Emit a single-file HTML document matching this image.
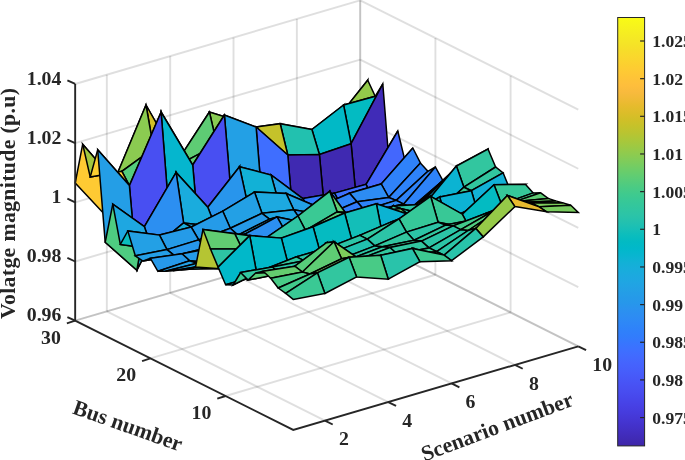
<!DOCTYPE html>
<html><head><meta charset="utf-8"><title>Voltage magnitude surface</title>
<style>html,body{margin:0;padding:0;background:#fff;}svg{display:block;}text{font-family:"Liberation Serif",serif;font-weight:bold;fill:#262626;}.t{font-size:19.8px;}.c{font-size:17.6px;}.l{font-size:21.8px;}</style></head><body>
<svg width="685" height="460" viewBox="0 0 685 460">
<rect width="685" height="460" fill="#fff"/>
<g stroke="#262626" stroke-opacity="0.15" stroke-width="1.9" fill="none">
<line x1="75.17" y1="320.69" x2="360.20" y2="237.08" />
<line x1="360.20" y1="237.08" x2="578.28" y2="346.29" />
<line x1="75.17" y1="261.51" x2="360.20" y2="177.90" />
<line x1="360.20" y1="177.90" x2="578.28" y2="287.11" />
<line x1="75.17" y1="202.33" x2="360.20" y2="118.72" />
<line x1="360.20" y1="118.72" x2="578.28" y2="227.93" />
<line x1="75.17" y1="143.15" x2="360.20" y2="59.54" />
<line x1="360.20" y1="59.54" x2="578.28" y2="168.75" />
<line x1="75.17" y1="83.97" x2="360.20" y2="0.36" />
<line x1="360.20" y1="0.36" x2="578.28" y2="109.57" />
<line x1="106.84" y1="311.40" x2="106.84" y2="74.68" />
<line x1="106.84" y1="311.40" x2="324.92" y2="420.61" />
<line x1="170.18" y1="292.82" x2="170.18" y2="56.10" />
<line x1="170.18" y1="292.82" x2="388.26" y2="402.03" />
<line x1="233.52" y1="274.24" x2="233.52" y2="37.52" />
<line x1="233.52" y1="274.24" x2="451.60" y2="383.45" />
<line x1="296.86" y1="255.66" x2="296.86" y2="18.94" />
<line x1="296.86" y1="255.66" x2="514.94" y2="364.87" />
<line x1="360.20" y1="237.08" x2="360.20" y2="0.36" />
<line x1="360.20" y1="237.08" x2="578.28" y2="346.29" />
<line x1="510.60" y1="312.40" x2="510.60" y2="75.68" />
<line x1="225.57" y1="396.01" x2="510.60" y2="312.40" />
<line x1="435.40" y1="274.74" x2="435.40" y2="38.02" />
<line x1="150.37" y1="358.35" x2="435.40" y2="274.74" />
<line x1="360.20" y1="237.08" x2="360.20" y2="0.36" />
<line x1="75.17" y1="320.69" x2="360.20" y2="237.08" />
</g>
<g stroke="#000" stroke-width="1.5" stroke-linejoin="miter" stroke-miterlimit="5">
<polygon points="336.1,119.9 367.7,80.2 360.2,118.7 328.5,151.7" fill="#3ac994"/>
<polygon points="304.4,141.1 336.1,119.9 328.5,151.7 296.9,166.9" fill="#17bfb6"/>
<polygon points="272.7,138.5 304.4,141.1 296.9,166.9 265.2,170.3" fill="#3ac994"/>
<polygon points="241.0,121.8 272.7,138.5 265.2,170.3 233.5,155.9" fill="#bbc42f"/>
<polygon points="209.4,112.0 241.0,121.8 233.5,155.9 201.9,153.3" fill="#fec03b"/>
<polygon points="177.7,160.8 209.4,112.0 201.9,153.3 170.2,195.2" fill="#4ecc81"/>
<polygon points="146.0,105.0 177.7,160.8 170.2,195.2 138.5,154.2" fill="#f9f916"/>
<polygon points="114.4,180.8 146.0,105.0 138.5,154.2 106.8,216.7" fill="#48cb86"/>
<polygon points="82.7,144.2 114.4,180.8 106.8,216.7 75.2,183.0" fill="#feca33"/>
<polygon points="343.6,105.0 375.2,96.3 367.7,80.2 336.1,119.9" fill="#93ca4b"/>
<polygon points="311.9,129.5 343.6,105.0 336.1,119.9 304.4,141.1" fill="#45cb89"/>
<polygon points="280.2,123.7 311.9,129.5 304.4,141.1 272.7,138.5" fill="#93ca4b"/>
<polygon points="248.6,127.9 280.2,123.7 272.7,138.5 241.0,121.8" fill="#aec637"/>
<polygon points="216.9,144.6 248.6,127.9 241.0,121.8 209.4,112.0" fill="#88cb53"/>
<polygon points="185.2,161.3 216.9,144.6 209.4,112.0 177.7,160.8" fill="#5ecc74"/>
<polygon points="153.6,148.4 185.2,161.3 177.7,160.8 146.0,105.0" fill="#d0bf27"/>
<polygon points="121.9,171.3 153.6,148.4 146.0,105.0 114.4,180.8" fill="#8bcb51"/>
<polygon points="90.2,177.0 121.9,171.3 114.4,180.8 82.7,144.2" fill="#a1c840"/>
<polygon points="351.1,143.7 382.8,83.8 375.2,96.3 343.6,105.0" fill="#03bbc2"/>
<polygon points="319.4,154.5 351.1,143.7 343.6,105.0 311.9,129.5" fill="#01b9c6"/>
<polygon points="287.8,155.0 319.4,154.5 311.9,129.5 280.2,123.7" fill="#22c1af"/>
<polygon points="256.1,127.0 287.8,155.0 280.2,123.7 248.6,127.9" fill="#c5c22a"/>
<polygon points="224.4,115.0 256.1,127.0 248.6,127.9 216.9,144.6" fill="#fec834"/>
<polygon points="192.7,165.0 224.4,115.0 216.9,144.6 185.2,161.3" fill="#61cd72"/>
<polygon points="161.1,112.0 192.7,165.0 185.2,161.3 153.6,148.4" fill="#f9fb15"/>
<polygon points="129.4,185.6 161.1,112.0 153.6,148.4 121.9,171.3" fill="#54cc7c"/>
<polygon points="97.7,149.7 129.4,185.6 121.9,171.3 90.2,177.0" fill="#fcce31"/>
<polygon points="358.6,224.4 390.3,178.2 382.8,83.8 351.1,143.7" fill="#402bb7"/>
<polygon points="326.9,235.2 358.6,224.4 351.1,143.7 319.4,154.5" fill="#3f29b1"/>
<polygon points="295.3,244.5 326.9,235.2 319.4,154.5 287.8,155.0" fill="#3f29b1"/>
<polygon points="263.6,219.2 295.3,244.5 287.8,155.0 256.1,127.0" fill="#3f6eff"/>
<polygon points="231.9,203.9 263.6,219.2 256.1,127.0 224.4,115.0" fill="#23a0e5"/>
<polygon points="200.3,251.7 231.9,203.9 224.4,115.0 192.7,165.0" fill="#484ff2"/>
<polygon points="168.6,208.3 200.3,251.7 192.7,165.0 161.1,112.0" fill="#05b6ce"/>
<polygon points="136.9,270.2 168.6,208.3 161.1,112.0 129.4,185.6" fill="#484ff2"/>
<polygon points="105.2,242.3 136.9,270.2 129.4,185.6 97.7,149.7" fill="#249ee6"/>
<polygon points="366.1,184.4 397.8,131.0 390.3,178.2 358.6,224.4" fill="#2e86f8"/>
<polygon points="334.5,193.1 366.1,184.4 358.6,224.4 326.9,235.2" fill="#2e87f7"/>
<polygon points="302.8,198.6 334.5,193.1 326.9,235.2 295.3,244.5" fill="#2c8ff1"/>
<polygon points="271.1,175.0 302.8,198.6 295.3,244.5 263.6,219.2" fill="#13beb8"/>
<polygon points="239.5,166.8 271.1,175.0 263.6,219.2 231.9,203.9" fill="#4ecc81"/>
<polygon points="207.8,207.2 239.5,166.8 231.9,203.9 200.3,251.7" fill="#14b0d8"/>
<polygon points="176.1,172.4 207.8,207.2 200.3,251.7 168.6,208.3" fill="#93ca4b"/>
<polygon points="144.4,226.7 176.1,172.4 168.6,208.3 136.9,270.2" fill="#17aeda"/>
<polygon points="112.8,204.1 144.4,226.7 136.9,270.2 105.2,242.3" fill="#4ecc81"/>
<polygon points="373.7,202.1 405.3,162.0 397.8,131.0 366.1,184.4" fill="#4367fd"/>
<polygon points="342.0,207.2 373.7,202.1 366.1,184.4 334.5,193.1" fill="#3e70ff"/>
<polygon points="310.3,210.6 342.0,207.2 334.5,193.1 302.8,198.6" fill="#317dfc"/>
<polygon points="278.6,202.1 310.3,210.6 302.8,198.6 271.1,175.0" fill="#23a0e5"/>
<polygon points="247.0,201.1 278.6,202.1 271.1,175.0 239.5,166.8" fill="#12b1d6"/>
<polygon points="215.3,226.6 247.0,201.1 239.5,166.8 207.8,207.2" fill="#2895ec"/>
<polygon points="183.6,222.9 215.3,226.6 207.8,207.2 176.1,172.4" fill="#1aacdd"/>
<polygon points="152.0,248.8 183.6,222.9 176.1,172.4 144.4,226.7" fill="#2c8ff1"/>
<polygon points="120.3,244.4 152.0,248.8 144.4,226.7 112.8,204.1" fill="#1ea7e1"/>
<polygon points="381.2,184.0 412.8,148.0 405.3,162.0 373.7,202.1" fill="#2895ec"/>
<polygon points="349.5,193.2 381.2,184.0 373.7,202.1 342.0,207.2" fill="#2895ec"/>
<polygon points="317.8,207.0 349.5,193.2 342.0,207.2 310.3,210.6" fill="#2d8cf3"/>
<polygon points="286.2,193.5 317.8,207.0 310.3,210.6 278.6,202.1" fill="#0bb3d2"/>
<polygon points="254.5,192.1 286.2,193.5 278.6,202.1 247.0,201.1" fill="#13beb8"/>
<polygon points="222.8,211.2 254.5,192.1 247.0,201.1 215.3,226.6" fill="#08b4d1"/>
<polygon points="191.2,227.0 222.8,211.2 215.3,226.6 183.6,222.9" fill="#1babde"/>
<polygon points="159.5,235.1 191.2,227.0 183.6,222.9 152.0,248.8" fill="#19addb"/>
<polygon points="127.8,231.0 159.5,235.1 152.0,248.8 120.3,244.4" fill="#0abdbd"/>
<polygon points="388.7,197.5 420.4,163.0 412.8,148.0 381.2,184.0" fill="#2f82fa"/>
<polygon points="357.0,201.7 388.7,197.5 381.2,184.0 349.5,193.2" fill="#2d8cf3"/>
<polygon points="325.4,215.2 357.0,201.7 349.5,193.2 317.8,207.0" fill="#2e83f9"/>
<polygon points="293.7,209.7 325.4,215.2 317.8,207.0 286.2,193.5" fill="#23a0e5"/>
<polygon points="262.0,213.3 293.7,209.7 286.2,193.5 254.5,192.1" fill="#1da9e0"/>
<polygon points="230.3,228.3 262.0,213.3 254.5,192.1 222.8,211.2" fill="#23a0e5"/>
<polygon points="198.7,239.9 230.3,228.3 222.8,211.2 191.2,227.0" fill="#259be8"/>
<polygon points="167.0,249.6 198.7,239.9 191.2,227.0 159.5,235.1" fill="#259be8"/>
<polygon points="135.3,255.8 167.0,249.6 159.5,235.1 127.8,231.0" fill="#23a0e5"/>
<polygon points="396.2,200.4 427.9,171.3 420.4,163.0 388.7,197.5" fill="#2e83f9"/>
<polygon points="364.5,210.2 396.2,200.4 388.7,197.5 357.0,201.7" fill="#2e83f9"/>
<polygon points="332.9,222.4 364.5,210.2 357.0,201.7 325.4,215.2" fill="#327cfc"/>
<polygon points="301.2,220.6 332.9,222.4 325.4,215.2 293.7,209.7" fill="#2a93ee"/>
<polygon points="269.5,219.1 301.2,220.6 293.7,209.7 262.0,213.3" fill="#1fa6e2"/>
<polygon points="237.9,235.1 269.5,219.1 262.0,213.3 230.3,228.3" fill="#269ae8"/>
<polygon points="206.2,247.9 237.9,235.1 230.3,228.3 198.7,239.9" fill="#2994ed"/>
<polygon points="174.5,255.7 206.2,247.9 198.7,239.9 167.0,249.6" fill="#2797eb"/>
<polygon points="142.9,261.1 174.5,255.7 167.0,249.6 135.3,255.8" fill="#249ee6"/>
<polygon points="403.7,204.1 435.4,167.0 427.9,171.3 396.2,200.4" fill="#2e83f9"/>
<polygon points="372.1,210.7 403.7,204.1 396.2,200.4 364.5,210.2" fill="#2d8af5"/>
<polygon points="340.4,221.5 372.1,210.7 364.5,210.2 332.9,222.4" fill="#2e86f8"/>
<polygon points="308.7,223.6 340.4,221.5 332.9,222.4 301.2,220.6" fill="#2994ed"/>
<polygon points="277.1,216.9 308.7,223.6 301.2,220.6 269.5,219.1" fill="#14b0d8"/>
<polygon points="245.4,233.9 277.1,216.9 269.5,219.1 237.9,235.1" fill="#21a3e3"/>
<polygon points="213.7,247.8 245.4,233.9 237.9,235.1 206.2,247.9" fill="#259be8"/>
<polygon points="182.0,253.8 213.7,247.8 206.2,247.9 174.5,255.7" fill="#22a1e4"/>
<polygon points="150.4,258.3 182.0,253.8 174.5,255.7 142.9,261.1" fill="#1da9e0"/>
<polygon points="411.2,207.9 442.9,180.6 435.4,167.0 403.7,204.1" fill="#2e83f9"/>
<polygon points="379.6,226.9 411.2,207.9 403.7,204.1 372.1,210.7" fill="#3f6eff"/>
<polygon points="347.9,236.4 379.6,226.9 372.1,210.7 340.4,221.5" fill="#406dfe"/>
<polygon points="316.2,242.2 347.9,236.4 340.4,221.5 308.7,223.6" fill="#3876fe"/>
<polygon points="284.6,230.3 316.2,242.2 308.7,223.6 277.1,216.9" fill="#23a0e5"/>
<polygon points="252.9,248.5 284.6,230.3 277.1,216.9 245.4,233.9" fill="#2c8ff1"/>
<polygon points="221.2,263.5 252.9,248.5 245.4,233.9 213.7,247.8" fill="#2e84f8"/>
<polygon points="189.6,260.8 221.2,263.5 213.7,247.8 182.0,253.8" fill="#259be8"/>
<polygon points="157.9,271.3 189.6,260.8 182.0,253.8 150.4,258.3" fill="#2699e9"/>
<polygon points="418.8,202.8 450.4,173.4 442.9,180.6 411.2,207.9" fill="#2895ec"/>
<polygon points="387.1,230.0 418.8,202.8 411.2,207.9 379.6,226.9" fill="#3e70ff"/>
<polygon points="355.4,238.2 387.1,230.0 379.6,226.9 347.9,236.4" fill="#3c71ff"/>
<polygon points="323.8,247.8 355.4,238.2 347.9,236.4 316.2,242.2" fill="#3c71ff"/>
<polygon points="292.1,230.7 323.8,247.8 316.2,242.2 284.6,230.3" fill="#1fa6e2"/>
<polygon points="260.4,249.9 292.1,230.7 284.6,230.3 252.9,248.5" fill="#2994ed"/>
<polygon points="228.8,266.1 260.4,249.9 252.9,248.5 221.2,263.5" fill="#2e86f8"/>
<polygon points="197.1,263.3 228.8,266.1 221.2,263.5 189.6,260.8" fill="#249ee6"/>
<polygon points="165.4,271.2 197.1,263.3 189.6,260.8 157.9,271.3" fill="#23a0e5"/>
<polygon points="426.3,197.7 458.0,166.2 450.4,173.4 418.8,202.8" fill="#20a5e3"/>
<polygon points="394.6,232.9 426.3,197.7 418.8,202.8 387.1,230.0" fill="#3c71ff"/>
<polygon points="362.9,239.7 394.6,232.9 387.1,230.0 355.4,238.2" fill="#3677fe"/>
<polygon points="331.3,253.1 362.9,239.7 355.4,238.2 323.8,247.8" fill="#3f6eff"/>
<polygon points="299.6,230.8 331.3,253.1 323.8,247.8 292.1,230.7" fill="#1aacdd"/>
<polygon points="267.9,251.1 299.6,230.8 292.1,230.7 260.4,249.9" fill="#2699e9"/>
<polygon points="236.3,268.4 267.9,251.1 260.4,249.9 228.8,266.1" fill="#2d8af5"/>
<polygon points="204.6,265.4 236.3,268.4 228.8,266.1 197.1,263.3" fill="#23a0e5"/>
<polygon points="172.9,270.8 204.6,265.4 197.1,263.3 165.4,271.2" fill="#1ea7e1"/>
<polygon points="433.8,195.5 465.5,177.4 458.0,166.2 426.3,197.7" fill="#17aeda"/>
<polygon points="402.1,235.4 433.8,195.5 426.3,197.7 394.6,232.9" fill="#3974fe"/>
<polygon points="370.5,240.9 402.1,235.4 394.6,232.9 362.9,239.7" fill="#317dfc"/>
<polygon points="338.8,258.1 370.5,240.9 362.9,239.7 331.3,253.1" fill="#416bfe"/>
<polygon points="307.1,230.6 338.8,258.1 331.3,253.1 299.6,230.8" fill="#10b2d5"/>
<polygon points="275.5,252.0 307.1,230.6 299.6,230.8 267.9,251.1" fill="#249ee6"/>
<polygon points="243.8,270.4 275.5,252.0 267.9,251.1 236.3,268.4" fill="#2d8cf3"/>
<polygon points="212.1,267.3 243.8,270.4 236.3,268.4 204.6,265.4" fill="#21a3e3"/>
<polygon points="180.4,270.1 212.1,267.3 204.6,265.4 172.9,270.8" fill="#17aeda"/>
<polygon points="441.3,193.4 473.0,181.1 465.5,177.4 433.8,195.5" fill="#05b6ce"/>
<polygon points="409.7,237.4 441.3,193.4 433.8,195.5 402.1,235.4" fill="#3579fd"/>
<polygon points="378.0,241.6 409.7,237.4 402.1,235.4 370.5,240.9" fill="#2e83f9"/>
<polygon points="346.3,262.5 378.0,241.6 370.5,240.9 338.8,258.1" fill="#426afe"/>
<polygon points="314.6,229.8 346.3,262.5 338.8,258.1 307.1,230.6" fill="#03b7cc"/>
<polygon points="283.0,252.4 314.6,229.8 307.1,230.6 275.5,252.0" fill="#21a3e3"/>
<polygon points="251.3,271.8 283.0,252.4 275.5,252.0 243.8,270.4" fill="#2b91ef"/>
<polygon points="219.6,268.6 251.3,271.8 243.8,270.4 212.1,267.3" fill="#1da8e0"/>
<polygon points="188.0,268.9 219.6,268.6 212.1,267.3 180.4,270.1" fill="#06b5cf"/>
<polygon points="448.9,188.3 480.5,179.0 473.0,181.1 441.3,193.4" fill="#17bfb6"/>
<polygon points="417.2,238.7 448.9,188.3 441.3,193.4 409.7,237.4" fill="#317dfc"/>
<polygon points="385.5,241.6 417.2,238.7 409.7,237.4 378.0,241.6" fill="#2d8bf4"/>
<polygon points="353.8,266.4 385.5,241.6 378.0,241.6 346.3,262.5" fill="#426afe"/>
<polygon points="322.2,228.5 353.8,266.4 346.3,262.5 314.6,229.8" fill="#08bcbf"/>
<polygon points="290.5,252.1 322.2,228.5 314.6,229.8 283.0,252.4" fill="#1babde"/>
<polygon points="258.8,272.7 290.5,252.1 283.0,252.4 251.3,271.8" fill="#2797eb"/>
<polygon points="227.2,269.3 258.8,272.7 251.3,271.8 219.6,268.6" fill="#19addb"/>
<polygon points="195.5,267.0 227.2,269.3 219.6,268.6 188.0,268.9" fill="#03bbc2"/>
<polygon points="456.4,166.0 488.0,149.0 480.5,179.0 448.9,188.3" fill="#7dcc5b"/>
<polygon points="424.7,204.3 456.4,166.0 448.9,188.3 417.2,238.7" fill="#08bcbf"/>
<polygon points="393.0,205.9 424.7,204.3 417.2,238.7 385.5,241.6" fill="#29c3aa"/>
<polygon points="361.4,234.4 393.0,205.9 385.5,241.6 353.8,266.4" fill="#15afd9"/>
<polygon points="329.7,191.3 361.4,234.4 353.8,266.4 322.2,228.5" fill="#bbc42f"/>
<polygon points="298.0,216.0 329.7,191.3 322.2,228.5 290.5,252.1" fill="#67cd6c"/>
<polygon points="266.4,237.7 298.0,216.0 290.5,252.1 258.8,272.7" fill="#35c79b"/>
<polygon points="234.7,233.7 266.4,237.7 258.8,272.7 227.2,269.3" fill="#6bcd69"/>
<polygon points="203.0,229.4 234.7,233.7 227.2,269.3 195.5,267.0" fill="#b5c533"/>
<polygon points="463.9,187.2 495.6,167.0 488.0,149.0 456.4,166.0" fill="#32c69f"/>
<polygon points="432.2,216.0 463.9,187.2 456.4,166.0 424.7,204.3" fill="#0bb3d2"/>
<polygon points="400.5,208.5 432.2,216.0 424.7,204.3 393.0,205.9" fill="#2cc4a6"/>
<polygon points="368.9,213.3 400.5,208.5 393.0,205.9 361.4,234.4" fill="#36c899"/>
<polygon points="337.2,211.9 368.9,213.3 361.4,234.4 329.7,191.3" fill="#61cd72"/>
<polygon points="305.5,230.4 337.2,211.9 329.7,191.3 298.0,216.0" fill="#3ac994"/>
<polygon points="273.9,244.1 305.5,230.4 298.0,216.0 266.4,237.7" fill="#2fc5a3"/>
<polygon points="242.2,249.0 273.9,244.1 266.4,237.7 234.7,233.7" fill="#3ac994"/>
<polygon points="210.5,249.1 242.2,249.0 234.7,233.7 203.0,229.4" fill="#61cd72"/>
<polygon points="471.4,190.7 503.1,172.8 495.6,167.0 463.9,187.2" fill="#32c69f"/>
<polygon points="439.7,197.0 471.4,190.7 463.9,187.2 432.2,216.0" fill="#3ac994"/>
<polygon points="408.1,214.3 439.7,197.0 432.2,216.0 400.5,208.5" fill="#27c2ac"/>
<polygon points="376.4,203.8 408.1,214.3 400.5,208.5 368.9,213.3" fill="#6ecd66"/>
<polygon points="344.7,213.0 376.4,203.8 368.9,213.3 337.2,211.9" fill="#6ecd66"/>
<polygon points="313.1,226.8 344.7,213.0 337.2,211.9 305.5,230.4" fill="#57cc7a"/>
<polygon points="281.4,238.1 313.1,226.8 305.5,230.4 273.9,244.1" fill="#4ecc81"/>
<polygon points="249.7,235.6 281.4,238.1 273.9,244.1 242.2,249.0" fill="#8bcb51"/>
<polygon points="218.1,267.1 249.7,235.6 242.2,249.0 210.5,249.1" fill="#2ec4a4"/>
<polygon points="478.9,216.6 510.6,191.1 503.1,172.8 471.4,190.7" fill="#12b1d6"/>
<polygon points="447.3,224.5 478.9,216.6 471.4,190.7 439.7,197.0" fill="#0db3d4"/>
<polygon points="415.6,224.9 447.3,224.5 439.7,197.0 408.1,214.3" fill="#08bcbf"/>
<polygon points="383.9,242.1 415.6,224.9 408.1,214.3 376.4,203.8" fill="#0bb3d2"/>
<polygon points="352.2,241.4 383.9,242.1 376.4,203.8 344.7,213.0" fill="#13beb8"/>
<polygon points="320.6,253.9 352.2,241.4 344.7,213.0 313.1,226.8" fill="#05bbc1"/>
<polygon points="288.9,267.1 320.6,253.9 313.1,226.8 281.4,238.1" fill="#02b7ca"/>
<polygon points="257.2,275.8 288.9,267.1 281.4,238.1 249.7,235.6" fill="#01b8c9"/>
<polygon points="225.6,284.7 257.2,275.8 249.7,235.6 218.1,267.1" fill="#01b8c9"/>
<polygon points="486.5,201.2 518.1,188.9 510.6,191.1 478.9,216.6" fill="#2cc4a6"/>
<polygon points="454.8,216.4 486.5,201.2 478.9,216.6 447.3,224.5" fill="#17bfb6"/>
<polygon points="423.1,216.8 454.8,216.4 447.3,224.5 415.6,224.9" fill="#32c69f"/>
<polygon points="391.4,221.9 423.1,216.8 415.6,224.9 383.9,242.1" fill="#3eca90"/>
<polygon points="359.8,235.4 391.4,221.9 383.9,242.1 352.2,241.4" fill="#32c69f"/>
<polygon points="328.1,247.6 359.8,235.4 352.2,241.4 320.6,253.9" fill="#2cc4a6"/>
<polygon points="296.4,256.9 328.1,247.6 320.6,253.9 288.9,267.1" fill="#2cc4a6"/>
<polygon points="264.8,269.2 296.4,256.9 288.9,267.1 257.2,275.8" fill="#22c1af"/>
<polygon points="233.1,285.0 264.8,269.2 257.2,275.8 225.6,284.7" fill="#08bcbf"/>
<polygon points="494.0,184.8 525.6,184.4 518.1,188.9 486.5,201.2" fill="#7dcc5b"/>
<polygon points="462.3,214.2 494.0,184.8 486.5,201.2 454.8,216.4" fill="#2cc4a6"/>
<polygon points="430.6,196.3 462.3,214.2 454.8,216.4 423.1,216.8" fill="#a1c840"/>
<polygon points="399.0,218.9 430.6,196.3 423.1,216.8 391.4,221.9" fill="#5acc77"/>
<polygon points="367.3,239.1 399.0,218.9 391.4,221.9 359.8,235.4" fill="#32c69f"/>
<polygon points="335.6,251.4 367.3,239.1 359.8,235.4 328.1,247.6" fill="#2cc4a6"/>
<polygon points="304.0,260.7 335.6,251.4 328.1,247.6 296.4,256.9" fill="#2cc4a6"/>
<polygon points="272.3,267.0 304.0,260.7 296.4,256.9 264.8,269.2" fill="#32c69f"/>
<polygon points="240.6,272.5 272.3,267.0 264.8,269.2 233.1,285.0" fill="#3cc992"/>
<polygon points="501.5,204.3 533.2,192.9 525.6,184.4 494.0,184.8" fill="#36c899"/>
<polygon points="469.8,228.4 501.5,204.3 494.0,184.8 462.3,214.2" fill="#03bbc2"/>
<polygon points="438.1,222.3 469.8,228.4 462.3,214.2 430.6,196.3" fill="#38c896"/>
<polygon points="406.5,232.1 438.1,222.3 430.6,196.3 399.0,218.9" fill="#36c899"/>
<polygon points="374.8,245.9 406.5,232.1 399.0,218.9 367.3,239.1" fill="#2cc4a6"/>
<polygon points="343.1,258.1 374.8,245.9 367.3,239.1 335.6,251.4" fill="#22c1af"/>
<polygon points="311.5,267.4 343.1,258.1 335.6,251.4 304.0,260.7" fill="#22c1af"/>
<polygon points="279.8,273.7 311.5,267.4 304.0,260.7 272.3,267.0" fill="#2cc4a6"/>
<polygon points="248.1,280.1 279.8,273.7 272.3,267.0 240.6,272.5" fill="#32c69f"/>
<polygon points="509.0,203.6 540.7,192.8 533.2,192.9 501.5,204.3" fill="#42ca8b"/>
<polygon points="477.3,218.8 509.0,203.6 501.5,204.3 469.8,228.4" fill="#32c69f"/>
<polygon points="445.7,225.1 477.3,218.8 469.8,228.4 438.1,222.3" fill="#3ac994"/>
<polygon points="414.0,240.3 445.7,225.1 438.1,222.3 406.5,232.1" fill="#2cc4a6"/>
<polygon points="382.3,246.7 414.0,240.3 406.5,232.1 374.8,245.9" fill="#32c69f"/>
<polygon points="350.7,258.9 382.3,246.7 374.8,245.9 343.1,258.1" fill="#2cc4a6"/>
<polygon points="319.0,259.3 350.7,258.9 343.1,258.1 311.5,267.4" fill="#42ca8b"/>
<polygon points="287.3,271.6 319.0,259.3 311.5,267.4 279.8,273.7" fill="#3ac994"/>
<polygon points="255.7,272.9 287.3,271.6 279.8,273.7 248.1,280.1" fill="#5acc77"/>
<polygon points="516.5,201.4 548.2,198.4 540.7,192.8 509.0,203.6" fill="#5ecc74"/>
<polygon points="484.9,213.7 516.5,201.4 509.0,203.6 477.3,218.8" fill="#51cc7f"/>
<polygon points="453.2,225.9 484.9,213.7 477.3,218.8 445.7,225.1" fill="#42ca8b"/>
<polygon points="421.5,241.1 453.2,225.9 445.7,225.1 414.0,240.3" fill="#32c69f"/>
<polygon points="389.9,247.5 421.5,241.1 414.0,240.3 382.3,246.7" fill="#3ac994"/>
<polygon points="358.2,259.7 389.9,247.5 382.3,246.7 350.7,258.9" fill="#32c69f"/>
<polygon points="326.5,242.7 358.2,259.7 350.7,258.9 319.0,259.3" fill="#cdc028"/>
<polygon points="294.8,266.2 326.5,242.7 319.0,259.3 287.3,271.6" fill="#61cd72"/>
<polygon points="263.2,271.3 294.8,266.2 287.3,271.6 255.7,272.9" fill="#76cc61"/>
<polygon points="524.1,202.2 555.7,200.9 548.2,198.4 516.5,201.4" fill="#6ecd66"/>
<polygon points="492.4,211.5 524.1,202.2 516.5,201.4 484.9,213.7" fill="#6ecd66"/>
<polygon points="460.7,229.7 492.4,211.5 484.9,213.7 453.2,225.9" fill="#42ca8b"/>
<polygon points="429.0,247.9 460.7,229.7 453.2,225.9 421.5,241.1" fill="#2cc4a6"/>
<polygon points="397.4,254.2 429.0,247.9 421.5,241.1 389.9,247.5" fill="#32c69f"/>
<polygon points="365.7,263.5 397.4,254.2 389.9,247.5 358.2,259.7" fill="#32c69f"/>
<polygon points="334.0,241.7 365.7,263.5 358.2,259.7 326.5,242.7" fill="#c5c22a"/>
<polygon points="302.4,272.0 334.0,241.7 326.5,242.7 294.8,266.2" fill="#57cc7a"/>
<polygon points="270.7,278.3 302.4,272.0 294.8,266.2 263.2,271.3" fill="#64cd6f"/>
<polygon points="531.6,203.1 563.2,202.9 555.7,200.9 524.1,202.2" fill="#7dcc5b"/>
<polygon points="499.9,209.4 531.6,203.1 524.1,202.2 492.4,211.5" fill="#8fcb4e"/>
<polygon points="468.2,230.5 499.9,209.4 492.4,211.5 460.7,229.7" fill="#51cc7f"/>
<polygon points="436.6,251.6 468.2,230.5 460.7,229.7 429.0,247.9" fill="#2cc4a6"/>
<polygon points="404.9,255.0 436.6,251.6 429.0,247.9 397.4,254.2" fill="#3ac994"/>
<polygon points="373.2,264.3 404.9,255.0 397.4,254.2 365.7,263.5" fill="#3ac994"/>
<polygon points="341.6,258.8 373.2,264.3 365.7,263.5 334.0,241.7" fill="#7dcc5b"/>
<polygon points="309.9,274.0 341.6,258.8 334.0,241.7 302.4,272.0" fill="#5ecc74"/>
<polygon points="278.2,288.0 309.9,274.0 302.4,272.0 270.7,278.3" fill="#48cb86"/>
<polygon points="539.1,206.8 570.8,205.2 563.2,202.9 531.6,203.1" fill="#7dcc5b"/>
<polygon points="507.4,195.4 539.1,206.8 531.6,203.1 499.9,209.4" fill="#e3bc2c"/>
<polygon points="475.8,228.4 507.4,195.4 499.9,209.4 468.2,230.5" fill="#6ecd66"/>
<polygon points="444.1,255.1 475.8,228.4 468.2,230.5 436.6,251.6" fill="#2cc4a6"/>
<polygon points="412.4,248.4 444.1,255.1 436.6,251.6 404.9,255.0" fill="#67cd6c"/>
<polygon points="380.7,255.3 412.4,248.4 404.9,255.0 373.2,264.3" fill="#72cd64"/>
<polygon points="349.1,257.3 380.7,255.3 373.2,264.3 341.6,258.8" fill="#9ac946"/>
<polygon points="317.4,272.8 349.1,257.3 341.6,258.8 309.9,274.0" fill="#79cc5e"/>
<polygon points="285.7,293.3 317.4,272.8 309.9,274.0 278.2,288.0" fill="#42ca8b"/>
<polygon points="546.6,211.8 578.3,212.5 570.8,205.2 539.1,206.8" fill="#79cc5e"/>
<polygon points="514.9,206.6 546.6,211.8 539.1,206.8 507.4,195.4" fill="#e8bb2f"/>
<polygon points="483.3,236.9 514.9,206.6 507.4,195.4 475.8,228.4" fill="#96ca48"/>
<polygon points="451.6,260.7 483.3,236.9 475.8,228.4 444.1,255.1" fill="#29c3aa"/>
<polygon points="419.9,261.7 451.6,260.7 444.1,255.1 412.4,248.4" fill="#3cc992"/>
<polygon points="388.3,279.2 419.9,261.7 412.4,248.4 380.7,255.3" fill="#29c3aa"/>
<polygon points="356.6,277.0 388.3,279.2 380.7,255.3 349.1,257.3" fill="#48cb86"/>
<polygon points="324.9,293.5 356.6,277.0 349.1,257.3 317.4,272.8" fill="#32c69f"/>
<polygon points="293.2,299.4 324.9,293.5 317.4,272.8 285.7,293.3" fill="#3ac994"/>
</g>
<g stroke="#262626" stroke-width="1.9" fill="none" stroke-linecap="butt">
<polyline points="75.17,83.97 75.17,320.69 293.25,429.90 578.28,346.29" stroke-linejoin="miter"/>
<line x1="75.17" y1="320.69" x2="67.37" y2="317.09" />
<line x1="75.17" y1="261.51" x2="67.37" y2="257.91" />
<line x1="75.17" y1="202.33" x2="67.37" y2="198.73" />
<line x1="75.17" y1="143.15" x2="67.37" y2="139.55" />
<line x1="75.17" y1="83.97" x2="67.37" y2="80.37" />
<line x1="225.57" y1="396.01" x2="217.27" y2="398.71" />
<line x1="150.37" y1="358.35" x2="142.07" y2="361.05" />
<line x1="75.17" y1="320.69" x2="66.87" y2="323.39" />
<line x1="324.92" y1="420.61" x2="332.72" y2="424.51" />
<line x1="388.26" y1="402.03" x2="396.06" y2="405.93" />
<line x1="451.60" y1="383.45" x2="459.40" y2="387.35" />
<line x1="514.94" y1="364.87" x2="522.74" y2="368.77" />
<line x1="578.28" y1="346.29" x2="586.08" y2="350.19" />
</g>
<text class="t" x="61.4" y="321.4" text-anchor="end">0.96</text>
<text class="t" x="61.4" y="262.2" text-anchor="end">0.98</text>
<text class="t" x="61.4" y="203.0" text-anchor="end">1</text>
<text class="t" x="61.4" y="143.8" text-anchor="end">1.02</text>
<text class="t" x="61.4" y="84.7" text-anchor="end">1.04</text>
<text class="t" x="211.3" y="419.0" text-anchor="end">10</text>
<text class="t" x="136.1" y="381.3" text-anchor="end">20</text>
<text class="t" x="60.9" y="343.7" text-anchor="end">30</text>
<text class="t" x="338.9" y="445.4">2</text>
<text class="t" x="402.3" y="426.8">4</text>
<text class="t" x="465.6" y="408.2">6</text>
<text class="t" x="528.9" y="389.7">8</text>
<text class="t" x="592.3" y="371.1">10</text>
<text class="l" transform="translate(14.9,203.4) rotate(-90)" text-anchor="middle" letter-spacing="0.33">Volatge magnitude (p.u)</text>
<text class="l" transform="translate(125.5,432.3) rotate(19.5)" text-anchor="middle">Bus number</text>
<text class="l" transform="translate(499.6,433.3) rotate(-20.6)" text-anchor="middle">Scenario number</text>
<defs><linearGradient id="pg" x1="0" y1="1" x2="0" y2="0">
<stop offset="0.0000" stop-color="#3e26a8"/>
<stop offset="0.0159" stop-color="#402ab4"/>
<stop offset="0.0317" stop-color="#422ec0"/>
<stop offset="0.0476" stop-color="#4332cb"/>
<stop offset="0.0635" stop-color="#4537d5"/>
<stop offset="0.0794" stop-color="#463cde"/>
<stop offset="0.0952" stop-color="#4741e5"/>
<stop offset="0.1111" stop-color="#4747eb"/>
<stop offset="0.1270" stop-color="#484df0"/>
<stop offset="0.1429" stop-color="#4852f4"/>
<stop offset="0.1587" stop-color="#4758f8"/>
<stop offset="0.1746" stop-color="#465efb"/>
<stop offset="0.1905" stop-color="#4563fd"/>
<stop offset="0.2063" stop-color="#4269fe"/>
<stop offset="0.2222" stop-color="#3e6fff"/>
<stop offset="0.2381" stop-color="#3875fe"/>
<stop offset="0.2540" stop-color="#327cfc"/>
<stop offset="0.2698" stop-color="#2f81fa"/>
<stop offset="0.2857" stop-color="#2e87f7"/>
<stop offset="0.3016" stop-color="#2d8cf3"/>
<stop offset="0.3175" stop-color="#2b91ef"/>
<stop offset="0.3333" stop-color="#2797eb"/>
<stop offset="0.3492" stop-color="#259be8"/>
<stop offset="0.3651" stop-color="#23a0e5"/>
<stop offset="0.3810" stop-color="#20a5e3"/>
<stop offset="0.3968" stop-color="#1ca9df"/>
<stop offset="0.4127" stop-color="#18addb"/>
<stop offset="0.4286" stop-color="#12b1d6"/>
<stop offset="0.4444" stop-color="#08b5d0"/>
<stop offset="0.4603" stop-color="#01b8ca"/>
<stop offset="0.4762" stop-color="#02bac3"/>
<stop offset="0.4921" stop-color="#0bbdbd"/>
<stop offset="0.5079" stop-color="#19bfb6"/>
<stop offset="0.5238" stop-color="#24c1ae"/>
<stop offset="0.5397" stop-color="#2cc4a7"/>
<stop offset="0.5556" stop-color="#31c69f"/>
<stop offset="0.5714" stop-color="#37c897"/>
<stop offset="0.5873" stop-color="#3fca8e"/>
<stop offset="0.6032" stop-color="#4acb84"/>
<stop offset="0.6190" stop-color="#57cc7a"/>
<stop offset="0.6349" stop-color="#64cd6f"/>
<stop offset="0.6508" stop-color="#72cd64"/>
<stop offset="0.6667" stop-color="#81cc59"/>
<stop offset="0.6825" stop-color="#8fcb4e"/>
<stop offset="0.6984" stop-color="#9dc943"/>
<stop offset="0.7143" stop-color="#abc739"/>
<stop offset="0.7302" stop-color="#b9c431"/>
<stop offset="0.7460" stop-color="#c5c22a"/>
<stop offset="0.7619" stop-color="#d1bf27"/>
<stop offset="0.7778" stop-color="#dcbd29"/>
<stop offset="0.7937" stop-color="#e6bb2d"/>
<stop offset="0.8095" stop-color="#f0ba36"/>
<stop offset="0.8254" stop-color="#f8ba3d"/>
<stop offset="0.8413" stop-color="#febe3c"/>
<stop offset="0.8571" stop-color="#fec338"/>
<stop offset="0.8730" stop-color="#fec934"/>
<stop offset="0.8889" stop-color="#fccf30"/>
<stop offset="0.9048" stop-color="#fad62d"/>
<stop offset="0.9206" stop-color="#f7dc2a"/>
<stop offset="0.9365" stop-color="#f5e327"/>
<stop offset="0.9524" stop-color="#f5e924"/>
<stop offset="0.9683" stop-color="#f6ef20"/>
<stop offset="0.9841" stop-color="#f7f51b"/>
<stop offset="1.0000" stop-color="#f9fb15"/>
</linearGradient></defs>
<rect x="617.7" y="17.5" width="26.9" height="428.4" fill="url(#pg)" stroke="#262626" stroke-width="1"/>
<g stroke="#262626" stroke-width="1.2">
<line x1="640.10" y1="417.58" x2="644.60" y2="417.58" />
<line x1="640.10" y1="379.92" x2="644.60" y2="379.92" />
<line x1="640.10" y1="342.26" x2="644.60" y2="342.26" />
<line x1="640.10" y1="304.61" x2="644.60" y2="304.61" />
<line x1="640.10" y1="266.95" x2="644.60" y2="266.95" />
<line x1="640.10" y1="229.29" x2="644.60" y2="229.29" />
<line x1="640.10" y1="191.63" x2="644.60" y2="191.63" />
<line x1="640.10" y1="153.97" x2="644.60" y2="153.97" />
<line x1="640.10" y1="116.32" x2="644.60" y2="116.32" />
<line x1="640.10" y1="78.66" x2="644.60" y2="78.66" />
<line x1="640.10" y1="41.00" x2="644.60" y2="41.00" />
</g>
<text class="c" x="652.2" y="423.6">0.975</text>
<text class="c" x="652.2" y="385.9">0.98</text>
<text class="c" x="652.2" y="348.3">0.985</text>
<text class="c" x="652.2" y="310.6">0.99</text>
<text class="c" x="652.2" y="272.9">0.995</text>
<text class="c" x="652.2" y="235.3">1</text>
<text class="c" x="652.2" y="197.6">1.005</text>
<text class="c" x="652.2" y="160.0">1.01</text>
<text class="c" x="652.2" y="122.3">1.015</text>
<text class="c" x="652.2" y="84.7">1.02</text>
<text class="c" x="652.2" y="47.0">1.025</text>
</svg></body></html>
